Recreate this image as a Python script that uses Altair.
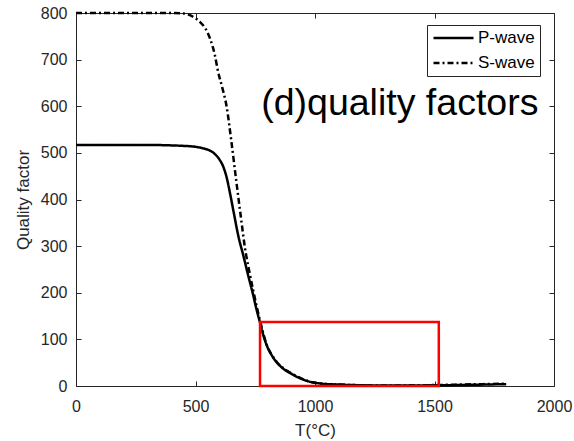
import altair as alt
import pandas as pd

# ---- data ----
SERIES = ["P-wave", "S-wave"]

T_P = [0, 100, 200, 300, 400, 450, 500, 530, 560, 580, 600, 615, 630, 645, 660,
       680, 700, 720, 740, 755, 770, 785, 799, 820, 841, 865, 895, 940, 979, 1030,
       1100, 1200, 1300, 1400, 1500, 1600, 1700, 1800]
Q_P = [517, 517, 517, 517, 516, 515, 513, 510, 505, 498, 486, 472, 448, 412, 372,
       320, 280, 238, 198, 165, 136, 107, 86, 65, 50, 38, 28, 16, 9, 5,
       3, 1.5, 1, 1, 1.5, 2, 3, 4]

T_S = [0, 200, 400, 450, 490, 520, 540, 561, 580, 595, 612, 630, 650, 672, 690,
       707, 725, 742, 757, 770, 785, 799, 820, 841, 865, 895, 940, 979, 1030,
       1100, 1200, 1300, 1400, 1500, 1600, 1700, 1800]
Q_S = [800, 800, 800, 799, 792, 780, 768, 745, 712, 673, 640, 600, 525, 434, 362,
       296, 246, 204, 168, 140, 110, 87, 66, 51, 39, 29, 17, 9, 5,
       3, 1.5, 1, 1.5, 2, 3, 4, 5]

BOX_T0 = [770]
BOX_T1 = [1518]
BOX_Q0 = [0]
BOX_Q1 = [137]

NOTE_T = [775]
NOTE_Q = [581]
NOTE_TEXT = ["(d)quality factors"]

X_TICKS = [0, 500, 1000, 1500, 2000]
Y_TICKS = [0, 100, 200, 300, 400, 500, 600, 700, 800]

# ---- tables ----
df = pd.concat([
    pd.DataFrame({"T": T_P, "Q": Q_P, "series": SERIES[0]}),
    pd.DataFrame({"T": T_S, "Q": Q_S, "series": SERIES[1]}),
], ignore_index=True)
box_df = pd.DataFrame({"t0": BOX_T0, "t1": BOX_T1, "q0": BOX_Q0, "q1": BOX_Q1})
note_df = pd.DataFrame({"t": NOTE_T, "q": NOTE_Q, "label": NOTE_TEXT})

FONT = "Liberation Sans"
AX = "#262626"

x_scale = alt.Scale(domain=[0, 2000], nice=False, zero=False)
y_scale = alt.Scale(domain=[0, 800], nice=False, zero=False)

lines = alt.Chart(df).mark_line(strokeWidth=2.5, color="black", interpolate="monotone").encode(
    x=alt.X("T:Q", scale=x_scale,
            axis=alt.Axis(values=X_TICKS, title="T(°C)", orient="bottom", domain=False,
                          offset=-5, tickSize=5, labelPadding=12, titlePadding=8,
                          labelFlush=False, grid=False, format="d")),
    y=alt.Y("Q:Q", scale=y_scale,
            axis=alt.Axis(values=Y_TICKS, title="Quality factor", orient="left", domain=False,
                          offset=-5, tickSize=5, labelPadding=9, titlePadding=8,
                          labelFlush=False, grid=False, format="d")),
    strokeDash=alt.StrokeDash("series:N",
                              scale=alt.Scale(domain=SERIES, range=[[1, 0], [6, 3, 2, 3]]),
                              legend=alt.Legend(title=None)),
)

box = alt.Chart(box_df).mark_rect(fillOpacity=0, stroke="#ff0000", strokeWidth=2.5).encode(
    x=alt.X("t0:Q", scale=x_scale,
            axis=alt.Axis(values=X_TICKS, title=None, orient="top", labels=False, domain=False,
                          offset=-5, tickSize=5, grid=False)),
    x2="t1:Q",
    y=alt.Y("q0:Q", scale=y_scale,
            axis=alt.Axis(values=Y_TICKS, title=None, orient="right", labels=False, domain=False,
                          offset=-5, tickSize=5, grid=False)),
    y2="q1:Q",
)

note = alt.Chart(note_df).mark_text(align="left", baseline="alphabetic", font=FONT,
                                    fontSize=37.5, color="black").encode(
    x=alt.X("t:Q", scale=x_scale, axis=None),
    y=alt.Y("q:Q", scale=y_scale, axis=None),
    text="label:N",
)

chart = alt.layer(lines, box, note).resolve_axis(
    x="independent", y="independent"
).properties(
    width=478, height=373,
    padding={"left": 76, "top": 13, "right": 20, "bottom": 55},
    autosize="none",
    background="white",
).configure_view(
    stroke=AX, strokeWidth=1
).configure_axis(
    labelFont=FONT, titleFont=FONT, labelFontSize=16, titleFontSize=17,
    labelColor=AX, titleColor=AX, tickColor=AX, titleFontWeight="normal",
).configure_legend(
    orient="none", legendX=351, legendY=12,
    fillColor="white", strokeColor=AX, padding=5, cornerRadius=0,
    symbolType="stroke", symbolSize=1600, symbolStrokeWidth=2.5,
    symbolStrokeColor="black", clipHeight=16,
    labelFont=FONT, labelFontSize=17, labelColor="black", labelOffset=3, rowPadding=8,
)

chart.save("out.html", embed_options={"renderer": "svg", "actions": False})
